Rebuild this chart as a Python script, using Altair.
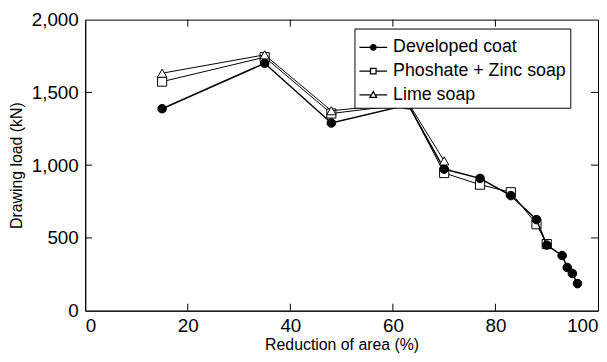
import altair as alt
import pandas as pd

series_names = ["Developed coat", "Phoshate + Zinc soap", "Lime soap"]

dev_x = [15, 35, 48, 63, 70, 77, 83, 88, 90, 93, 94, 95, 96]
dev_y = [1388, 1700, 1290, 1415, 973, 909, 791, 626, 451, 379, 297, 256, 186]

pho_x = [15, 35, 48, 63, 70, 77, 83, 88, 90]
pho_y = [1574, 1742, 1355, 1420, 946, 866, 814, 594, 458]

lime_x = [15, 35, 48, 63, 70]
lime_y = [1632, 1758, 1374, 1427, 1029]

x_ticks = [0, 20, 40, 60, 80, 100]
y_ticks = [0, 500, 1000, 1500, 2000]
x_inner_ticks = [20, 40, 60, 80]
y_inner_ticks = [500, 1000, 1500]

FONT = "Arial, 'Liberation Sans', sans-serif"

def frame(name, xs, ys):
    return pd.DataFrame({"series": name, "x": xs, "y": ys})

df_dev = frame(series_names[0], dev_x, dev_y)
df_pho = frame(series_names[1], pho_x, pho_y)
df_lime = frame(series_names[2], lime_x, lime_y)
df_all = pd.concat([df_dev, df_pho, df_lime], ignore_index=True)

xscale = alt.Scale(domain=[0, 100], nice=False, zero=False)
yscale = alt.Scale(domain=[0, 2000], nice=False)

x_axis = alt.Axis(values=x_ticks, format="d", title="Reduction of area  (%)", ticks=False,
                  grid=False, labelPadding=6, titlePadding=1)
y_axis = alt.Axis(values=y_ticks, format=",.0f", title="Drawing load  (kN)", ticks=False,
                  grid=False, labelPadding=7, titlePadding=7)
X = alt.X("x:Q", scale=xscale, axis=x_axis)
Y = alt.Y("y:Q", scale=yscale, axis=y_axis)

def series_layer(df, shape, filled, size, sw):
    base = alt.Chart(df)
    line = base.mark_line(color="black", strokeWidth=sw).encode(x=X, y=Y)
    pts = base.mark_point(shape=shape, filled=True, fill="black" if filled else "white",
                          stroke="black", strokeWidth=1, size=size, opacity=1).encode(x=X, y=Y)
    return line + pts

pho_layer = series_layer(df_pho, "square", False, 85, 1)
dev_layer = series_layer(df_dev, "circle", True, 75, 1.5)
lime_layer = series_layer(df_lime, "triangle-up", False, 90, 1)

# inward ticks on all four sides
xt = pd.DataFrame({"x": x_inner_ticks})
yt = pd.DataFrame({"y": y_inner_ticks})

def xtick(y0, y1):
    return alt.Chart(xt).mark_rule(color="black", strokeWidth=1).encode(
        x=X, y=y0, y2=y1)

def ytick(x0, x1):
    return alt.Chart(yt).mark_rule(color="black", strokeWidth=1).encode(
        y=Y, x=x0, x2=x1)

tick_bottom = xtick(alt.value("height"), alt.value({"expr": "height - 7"}))
tick_top = xtick(alt.value(0), alt.value(7))
tick_left = ytick(alt.value(0), alt.value(7))
tick_right = ytick(alt.value("width"), alt.value({"expr": "width - 7"}))

# legend symbols: line with marker
r = 0.2
p_circle = f"M-1,0H-{r}M{r},0H1M-{r},0A{r},{r},0,1,1,{r},0A{r},{r},0,1,1,-{r},0Z"
p_square = f"M-1,0H-{r}M{r},0H1M-{r},-{r}H{r}V{r}H-{r}Z"
p_tri = "M-1,0H-0.2M0.2,0H1M0,-0.24L0.24,0.18H-0.24Z"

leg = alt.Legend(title=None, orient="none", legendX=272, legendY=9,
                 strokeColor="black", fillColor="white", padding=4,
                 labelFont=FONT, labelFontSize=18, labelColor="black",
                 symbolSize=784, symbolStrokeWidth=1.3,
                 symbolOpacity=1, labelOffset=5, rowPadding=0, labelLimit=400)

legend_layer = alt.Chart(df_all).mark_point(opacity=0, filled=False).encode(
    x=X, y=Y,
    shape=alt.Shape("series:N", scale=alt.Scale(domain=series_names,
                                                range=[p_circle, p_square, p_tri]), legend=leg),
    fill=alt.Fill("series:N", scale=alt.Scale(domain=series_names,
                                              range=["black", "white", "white"]), legend=leg),
    stroke=alt.Stroke("series:N", scale=alt.Scale(domain=series_names,
                                                  range=["black", "black", "black"]), legend=leg),
)

chart = alt.layer(
    legend_layer, pho_layer, dev_layer, lime_layer,
    tick_bottom, tick_top, tick_left, tick_right,
).properties(
    width=597, height=346,
    autosize=alt.AutoSizeParams(type="fit", contains="padding"),
    padding={"left": 0, "top": 1, "right": 0, "bottom": 0},
    background="white",
).configure_view(
    stroke="black", strokeWidth=1
).configure_axis(
    domainColor="black", domainWidth=1,
    labelFont=FONT, labelFontSize=19, labelColor="black",
    titleFont=FONT, titleFontSize=16, titleFontWeight="normal", titleColor="black",
)

chart.save("out.html", embed_options={"renderer": "svg", "actions": False})
